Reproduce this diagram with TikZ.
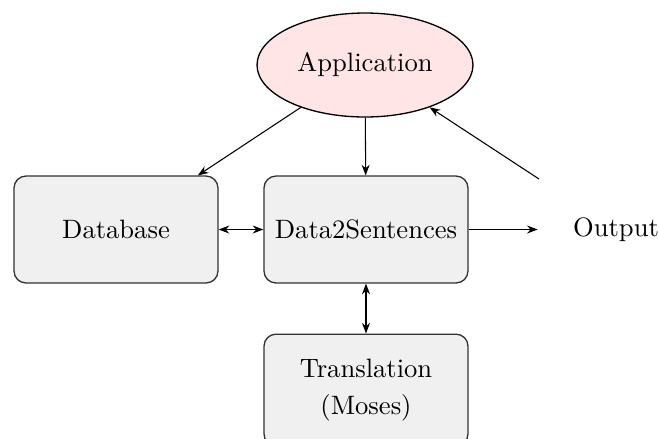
\documentclass[tikz,border=0pt]{standalone}
\usetikzlibrary{arrows.meta,shapes.geometric}

\tikzset{
  module/.style={draw=black!80, line width=0.5pt, fill=black!6, rounded corners=4.5pt,
    minimum width=76.7pt, minimum height=40.2pt, align=center, inner sep=2pt},
  appnode/.style={ellipse, draw=black, line width=0.5pt, fill=red!10,
    minimum width=81.2pt, minimum height=39.1pt, inner sep=0pt},
  link/.style={-{Stealth[length=4pt,width=3pt]}, line width=0.4pt},
  biglink/.style={{Stealth[length=4pt,width=3pt]}-{Stealth[length=4pt,width=3pt]}, line width=0.4pt},
}

\begin{document}
\begin{tikzpicture}[x=0.376pt, y=-0.376pt]
  \useasboundingbox (0,0) rectangle (659,438);

  % components
  \node[appnode] (app) at (365,65) {Application};
  \node[module] (db)   at (116,229.5) {Database};
  \node[module] (d2s)  at (366,229.5) {Data2Sentences};
  \node[module, minimum height=42pt] (tr) at (366,390) {Translation\\[2pt](Moses)};
  \node (out) at (616,229.5) {Output};
  \coordinate (fb) at (539,179);

  % data flow
  \draw[link] (app) -- (db);
  \draw[link] (app) -- (d2s);
  \draw[biglink] (db) -- (d2s);
  \draw[biglink] (d2s) -- (tr);
  \draw[link, shorten >=9.8pt] (d2s) -- (out);
  \draw[link] (fb) -- (app);
\end{tikzpicture}
\end{document}
